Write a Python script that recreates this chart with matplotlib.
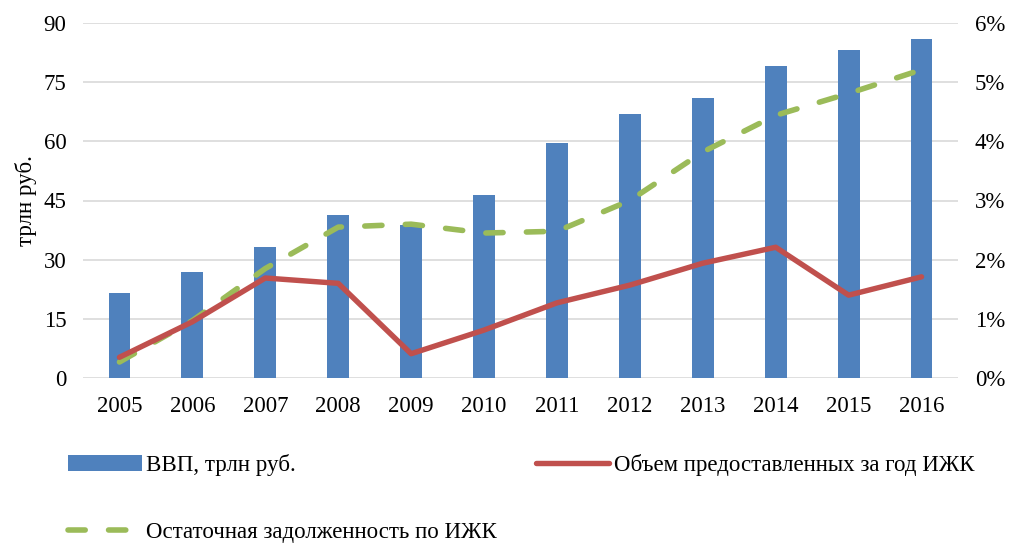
import matplotlib
matplotlib.use("Agg")
import matplotlib.pyplot as plt
import numpy as np
from matplotlib.ticker import FuncFormatter

years = ["2005", "2006", "2007", "2008", "2009", "2010", "2011", "2012", "2013", "2014", "2015", "2016"]
gdp = [21.6, 26.9, 33.2, 41.3, 38.8, 46.3, 59.7, 66.9, 71.0, 79.2, 83.2, 86.0]
mortgage_issued = [0.35, 0.95, 1.69, 1.60, 0.41, 0.81, 1.27, 1.57, 1.94, 2.21, 1.40, 1.71]
mortgage_debt = [0.27, 0.97, 1.85, 2.55, 2.60, 2.45, 2.48, 3.00, 3.82, 4.44, 4.81, 5.21]

left_ticks = [0, 15, 30, 45, 60, 75, 90]
right_ticks = [0, 1, 2, 3, 4, 5, 6]

plt.rcParams['font.family'] = ['Liberation Serif', 'DejaVu Serif']
FS = 16.5

fig = plt.figure(figsize=(10.15, 5.47), dpi=100)
ax = fig.add_axes([83/1015, 1-378/547, (958-83)/1015, (378-23)/547])
ax2 = ax.twinx()

x = np.arange(len(years))
bars = ax.bar(x, gdp, width=0.3, color='#4F81BD', zorder=2, label='ВВП, трлн руб.')
ax.set_ylim(0, 90)
ax.set_yticks(left_ticks)
ax.set_xlim(-0.5, len(years) - 0.5)
ax.set_xticks(x)
ax.set_xticklabels(years)
ax.yaxis.grid(True, color='#D9D9D9', linewidth=1.2, zorder=0)
ax.set_axisbelow(True)
for s in ax.spines.values():
    s.set_visible(False)
for s in ax2.spines.values():
    s.set_visible(False)
ax.tick_params(length=0, labelsize=FS, pad=12)
ax.tick_params(axis='x', pad=13)
ax.set_ylabel('трлн руб.', fontsize=FS, labelpad=5)

green, = ax2.plot(x, mortgage_debt, color='#9BBB59', linewidth=4.0, dashes=(3.1, 4.2),
                  dash_capstyle='round', label='Остаточная задолженность по ИЖК', zorder=3)
red, = ax2.plot(x, mortgage_issued, color='#C0504D', linewidth=3.9, solid_capstyle='round',
                label='Объем предоставленных за год ИЖК', zorder=4)
ax2.set_ylim(0, 6)
ax2.set_yticks(right_ticks)
ax2.yaxis.set_major_formatter(FuncFormatter(lambda v, p: f"{int(v)}%"))
ax2.tick_params(length=0, labelsize=FS, pad=12)

leg = fig.legend([bars, green, red],
                 ['ВВП, трлн руб.', 'Остаточная задолженность по ИЖК', 'Объем предоставленных за год ИЖК'],
                 loc='upper left', bbox_to_anchor=(57/1015, 1-443/547), ncol=2, frameon=False,
                 fontsize=FS, handlelength=3.2, handletextpad=0.2, labelspacing=2.0,
                 columnspacing=1.7, borderpad=0)

fig.savefig('out.png', dpi=100)
